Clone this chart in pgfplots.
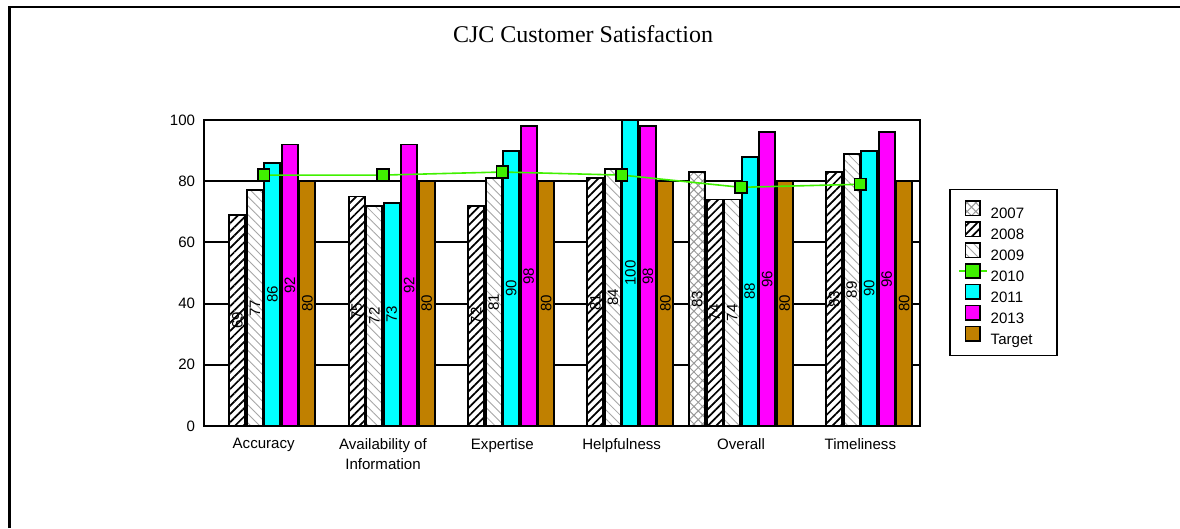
\documentclass[border=0pt]{standalone}
\usepackage{pgfplots}
\pgfplotsset{compat=1.18}
\usepackage{pgfplotstable}
\usetikzlibrary{patterns,patterns.meta}
\usepackage{fontspec}
\setmainfont{Liberation Sans}
\newfontfamily\titlefont{Liberation Serif}

\definecolor{green10}{RGB}{64,240,0}
\definecolor{cyan11}{RGB}{0,255,255}
\definecolor{mag13}{RGB}{255,0,255}
\definecolor{target}{RGB}{192,128,0}

% x: 0 Accuracy, 1 Availability of Information, 2 Expertise,
%    3 Helpfulness, 4 Overall, 5 Timeliness
\pgfplotstableread{
x v
4 83
}\yrA
\pgfplotstableread{
x v
0 69
1 75
2 72
3 81
4 74
5 83
}\yrB
\pgfplotstableread{
x v
0 77
1 72
2 81
3 84
4 74
5 89
}\yrC
\pgfplotstableread{
x v
0 82
1 82
2 83
3 82
4 78
5 79
}\yrD
\pgfplotstableread{
x v
0 86
1 73
2 90
3 100
4 88
5 90
}\yrE
\pgfplotstableread{
x v
0 92
1 92
2 98
3 98
4 96
5 96
}\yrF
\pgfplotstableread{
x v
0 80
1 80
2 80
3 80
4 80
5 80
}\yrT

\tikzset{
  hatch07/.style={fill=white, postaction={pattern color=gray!80, pattern={Hatch[angle=45,distance=4.6pt,line width=0.75pt]}}},
  hatch08/.style={fill=white, postaction={pattern color=black, pattern={Lines[angle=45,distance=4.4pt,line width=1.3pt]}}},
  hatch09/.style={fill=white, postaction={pattern color=gray!70, pattern={Lines[angle=-45,distance=4.8pt,line width=0.65pt]}}},
}

\begin{document}
\begin{tikzpicture}
\useasboundingbox (0,0) rectangle (885pt,396pt);
% outer frame (top and left edges)
\draw[line width=1.6pt] (7.1pt,0) -- (7.1pt,390.75pt) -- (885pt,390.75pt);
\node[anchor=base, font=\titlefont\fontsize{18}{20}\selectfont] at (437.25pt,363.75pt) {CJC Customer Satisfaction};

\begin{axis}[
  at={(153pt,76.5pt)}, anchor=south west,
  scale only axis, width=537pt, height=229.5pt,
  xmin=-0.5, xmax=5.5, ymin=0, ymax=100,
  xtick={0,1,2,3,4,5},
  xticklabels={Accuracy,{Availability of\\Information},Expertise,Helpfulness,Overall,Timeliness},
  ytick={0,20,40,60,80,100},
  major tick length=0pt,
  /pgf/number format/assume math mode=true,
  tick label style={font=\fontsize{11.3}{15}\selectfont, inner sep=0pt},
  yticklabel style={xshift=-6.5pt},
  xticklabel style={align=center, anchor=north, yshift=-9.2pt},
  axis line style={line width=1.5pt},
  ymajorgrids, major grid style={black, line width=1.4pt},
  legend style={at={(1,1)}, anchor=north west, xshift=21.75pt, yshift=-51.5pt,
    draw=black, line width=1.2pt, font=\fontsize{11.3}{12}\selectfont,
    inner xsep=11.5pt, inner ysep=8.2pt, row sep=1.8pt, column sep=7.5pt,
    cells={anchor=west}, nodes={inner sep=0pt, text height=8pt, text depth=0pt}},
  legend image code/.code={\draw[#1, line width=1pt] (0pt,-1.3pt) rectangle (10.7pt,9.4pt);},
]
% bars
\addplot[forget plot, ybar, bar width=12pt, bar shift=-32.81pt, draw=black, line width=1.4pt, hatch07] table[x=x,y=v]{\yrA};
\addplot[forget plot, ybar, bar width=12pt, bar shift=-19.69pt, draw=black, line width=1.4pt, hatch08] table[x=x,y=v]{\yrB};
\addplot[forget plot, ybar, bar width=12pt, bar shift=-6.56pt, draw=black, line width=1.4pt, hatch09] table[x=x,y=v]{\yrC};
\addplot[forget plot, ybar, bar width=12pt, bar shift=6.56pt, draw=black, line width=1.4pt, fill=cyan11] table[x=x,y=v]{\yrE};
\addplot[forget plot, ybar, bar width=12pt, bar shift=19.69pt, draw=black, line width=1.4pt, fill=mag13] table[x=x,y=v]{\yrF};
\addplot[forget plot, ybar, bar width=12pt, bar shift=32.81pt, draw=black, line width=1.4pt, fill=target] table[x=x,y=v]{\yrT};

% value labels, centred on each bar
\pgfplotsset{vlab/.style={forget plot, draw=none, mark=none, nodes near coords, point meta=explicit,
  every node near coord/.append style={rotate=90, anchor=center, inner sep=0pt, font=\fontsize{11.3}{12}\selectfont, text=black}}}
\addplot[vlab] table[x expr=\thisrow{x}-0.3666, y expr=\thisrow{v}/2, meta=v]{\yrA};
\addplot[vlab] table[x expr=\thisrow{x}-0.22, y expr=\thisrow{v}/2, meta=v]{\yrB};
\addplot[vlab] table[x expr=\thisrow{x}-0.0733, y expr=\thisrow{v}/2, meta=v]{\yrC};
\addplot[vlab] table[x expr=\thisrow{x}+0.0733, y expr=\thisrow{v}/2, meta=v]{\yrE};
\addplot[vlab] table[x expr=\thisrow{x}+0.22, y expr=\thisrow{v}/2, meta=v]{\yrF};
\addplot[vlab] table[x expr=\thisrow{x}+0.3666, y expr=\thisrow{v}/2, meta=v]{\yrT};

% 2010 line
\addplot[forget plot, green10, line width=1.2pt, mark=square*, mark size=4.4pt,
  mark options={draw=black, fill=green10, line width=1.1pt}] table[x=x,y=v]{\yrD};

% legend
\addlegendimage{hatch07}
\addlegendentry{\makebox[38pt][l]{2007}}
\addlegendimage{hatch08}
\addlegendentry{2008}
\addlegendimage{hatch09}
\addlegendentry{2009}
\addlegendimage{legend image code/.code={
  \draw[overlay, green10, line width=1.2pt] (-5pt,4pt) -- (15.7pt,4pt);
  \draw[black, fill=green10, line width=1pt] (0pt,-1.3pt) rectangle (10.7pt,9.4pt);}}
\addlegendentry{2010}
\addlegendimage{fill=cyan11}
\addlegendentry{2011}
\addlegendimage{fill=mag13}
\addlegendentry{2013}
\addlegendimage{fill=target}
\addlegendentry{Target}
\end{axis}
\end{tikzpicture}
\end{document}
